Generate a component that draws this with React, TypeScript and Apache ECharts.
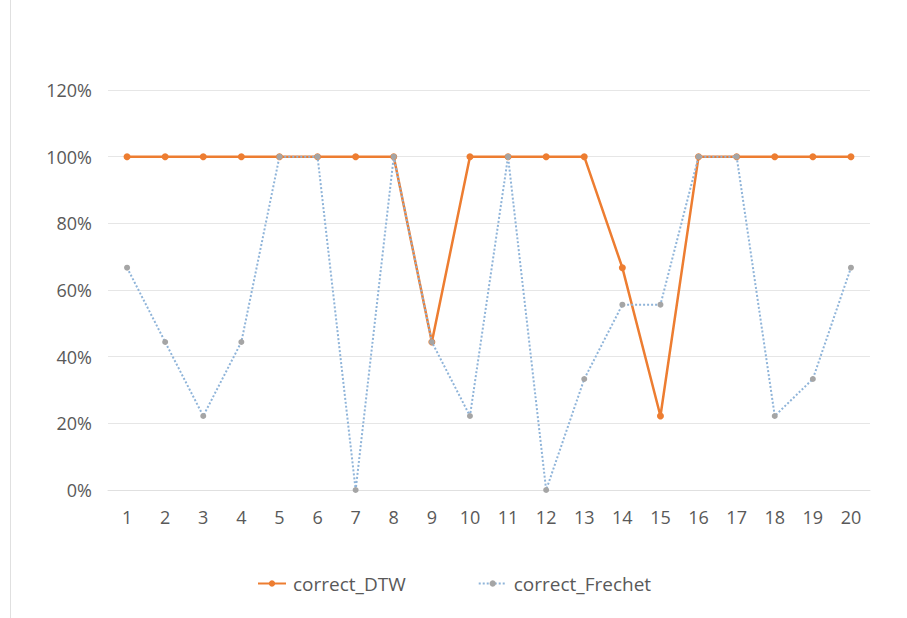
import React, { useEffect, useRef } from "react";
import * as echarts from "echarts";

const categories = ["1","2","3","4","5","6","7","8","9","10","11","12","13","14","15","16","17","18","19","20"];
const dtwValues = [100,100,100,100,100,100,100,100,44.4,100,100,100,100,66.7,22.2,100,100,100,100,100];
const frechetValues = [66.7,44.4,22.2,44.4,100,100,0,100,44.4,22.2,100,0,33.3,55.6,55.6,100,100,22.2,33.3,66.7];
const seriesNames = ["correct_DTW", "correct_Frechet"];

export default function App() {
  const ref = useRef<HTMLDivElement>(null);
  useEffect(() => {
    if (!ref.current) return;
    const chart = echarts.init(ref.current, undefined, { renderer: "svg" });
    const font = "'Open Sans', 'Noto Sans', sans-serif";
    chart.setOption({
      animation: false,
      backgroundColor: "#ffffff",
      grid: { left: 108, right: 37, top: 90, bottom: 128 },
      xAxis: {
        type: "category",
        data: categories,
        boundaryGap: true,
        axisLine: { show: true, lineStyle: { color: "#e0e0e0", width: 1 } },
        axisTick: { show: false },
        axisLabel: { color: "#595959", fontSize: 18, fontFamily: font, margin: 18 },
      },
      yAxis: {
        type: "value",
        min: 0,
        max: 120,
        interval: 20,
        axisLine: { show: false },
        axisTick: { show: false },
        splitLine: { lineStyle: { color: "#e6e6e6", width: 1 } },
        axisLabel: { color: "#595959", fontSize: 18, fontFamily: font, margin: 16, formatter: (v: number) => v + "%" },
      },
      legend: {
        top: 569,
        left: 252,
        itemGap: 72,
        itemWidth: 28,
        itemHeight: 8,
        textStyle: { color: "#595959", fontSize: 19, fontFamily: font, padding: [0, 0, 0, 2] },
        data: seriesNames,
      },
      graphic: [
        { type: "line", shape: { x1: 10.5, y1: 0, x2: 10.5, y2: 618 }, style: { stroke: "#e0e0e0", lineWidth: 1 } },
      ],
      series: [
        {
          name: seriesNames[0],
          type: "line",
          data: dtwValues,
          symbol: "circle",
          symbolSize: 7,
          itemStyle: { color: "#ed7d31" },
          lineStyle: { color: "#ed7d31", width: 2.5 },
          z: 2,
        },
        {
          name: seriesNames[1],
          type: "line",
          data: frechetValues,
          symbol: "circle",
          symbolSize: 6,
          itemStyle: { color: "#a5a5a5" },
          lineStyle: { color: "#8fb4d9", width: 2, type: [2, 2] },
          z: 3,
        },
      ],
    });
    return () => chart.dispose();
  }, []);
  return <div ref={ref} style={{ position: "fixed", left: 0, top: 0, width: 907, height: 618 }} />;
}
